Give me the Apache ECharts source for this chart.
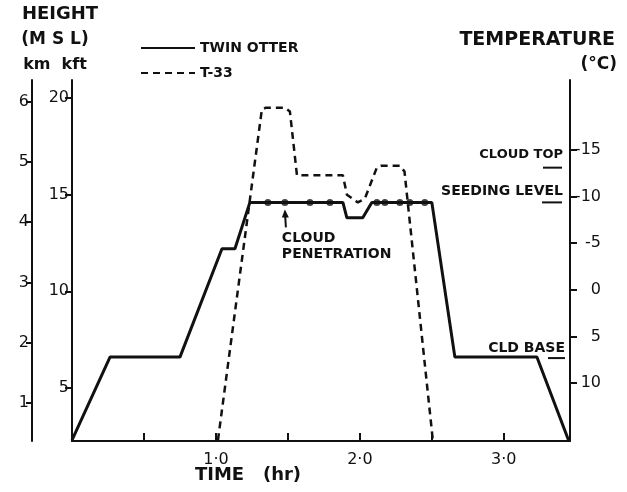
<!DOCTYPE html>
<html>
<head>
<meta charset="utf-8">
<script src="https://cdn.jsdelivr.net/npm/echarts@6.0.0/dist/echarts.min.js"></script>
<style>
  html, body { margin: 0; padding: 0; background: #fff; }
  #chart { width: 627px; height: 492px; }
</style>
</head>
<body>
<div id="chart"></div>
<script>
// flight profiles: time (hr) vs height (kft MSL)
const twinOtterTime = [0, 0.264, 0.75, 1.042, 1.132, 1.236, 1.882, 1.91, 2.02, 2.083, 2.5, 2.66, 3.23, 3.45];
const twinOtterKft = [2.3, 6.6, 6.6, 12.2, 12.2, 14.6, 14.6, 13.8, 13.8, 14.6, 14.6, 6.6, 6.6, 2.3];

const t33Time = [1.014, 1.319, 1.347, 1.479, 1.514, 1.563, 1.882, 1.91, 1.986, 2.035, 2.118, 2.15, 2.278, 2.31, 2.507];
const t33Kft = [2.3, 19.4, 19.5, 19.5, 19.3, 16.0, 16.0, 15.0, 14.6, 14.8, 16.4, 16.5, 16.5, 16.2, 2.3];

// cloud penetrations along the seeding level
const penetrationTime = [1.361, 1.479, 1.653, 1.792, 2.118, 2.174, 2.278, 2.347, 2.451];
const penetrationKft = [14.6, 14.6, 14.6, 14.6, 14.6, 14.6, 14.6, 14.6, 14.6];

const starTime = [2.02];
const starKft = [15.2];

// axes
const timeTicks = [0.5, 1, 1.5, 2, 2.5, 3];
const timeLabels = [1, 2, 3];
const kftTicks = [5, 10, 15, 20];
const kmTicks = [1, 2, 3, 4, 5, 6];
const tempTicks = [-15, -10, -5, 0, 5, 10];

const FONT = 'DejaVu Sans';
const black = '#111';

const chart = echarts.init(document.getElementById('chart'));

function pairs(xs, ys) {
  return xs.map((x, i) => [x, ys[i]]);
}

function sideAxis(extra) {
  return Object.assign({
    type: 'value',
    splitLine: { show: false },
    axisLine: { show: true, onZero: false, lineStyle: { color: black, width: 2 } },
    axisTick: { show: true, length: 6, lineStyle: { color: black, width: 2 } },
    axisLabel: { color: black, fontFamily: FONT, fontSize: 16, margin: 3 }
  }, extra);
}

const option = {
  backgroundColor: '#fff',
  animation: false,
  grid: { left: 72, right: 57, top: 80, bottom: 51 },
  legend: {
    data: ['TWIN OTTER', 'T-33'],
    orient: 'vertical',
    left: 135,
    top: 36,
    itemWidth: 54,
    itemHeight: 14,
    itemGap: 11,
    itemStyle: { opacity: 0 },
    textStyle: { color: black, fontFamily: FONT, fontWeight: 'bold', fontSize: 14, padding: [0, 0, 0, 0] }
  },
  xAxis: {
    type: 'value',
    min: 0,
    max: 3.46,
    splitLine: { show: false },
    axisLine: { show: true, onZero: false, lineStyle: { color: black, width: 2 } },
    axisTick: { show: true, inside: true, length: 8, customValues: timeTicks, lineStyle: { color: black, width: 2 } },
    axisLabel: {
      customValues: timeLabels,
      color: black, fontFamily: FONT, fontSize: 16, margin: 11,
      formatter: v => v.toFixed(1).replace('.', '·')
    }
  },
  yAxis: [
    sideAxis({
      position: 'left', min: 2.26, max: 20.93,
      axisTick: { show: true, length: 7, customValues: kftTicks, lineStyle: { color: black, width: 2 } },
      axisLabel: { customValues: kftTicks, color: black, fontFamily: FONT, fontSize: 16, margin: 3 }
    }),
    sideAxis({
      position: 'left', offset: 40, min: 0.37, max: 6.36,
      axisTick: { show: true, length: 6, customValues: kmTicks, lineStyle: { color: black, width: 2 } },
      axisLabel: { customValues: kmTicks, color: black, fontFamily: FONT, fontSize: 16, margin: 3 }
    }),
    sideAxis({
      position: 'right', inverse: true, min: -22.5, max: 16.2,
      axisTick: { show: true, length: 7, customValues: tempTicks, lineStyle: { color: black, width: 2 } },
      axisLabel: { customValues: tempTicks, color: black, fontFamily: FONT, fontSize: 16, margin: 31, align: 'right' }
    })
  ],
  series: [
    {
      name: 'TWIN OTTER',
      type: 'line',
      symbol: 'none',
      lineStyle: { color: black, width: 3 },
      itemStyle: { color: black },
      data: pairs(twinOtterTime, twinOtterKft),
      z: 3
    },
    {
      name: 'T-33',
      type: 'line',
      symbol: 'none',
      lineStyle: { color: black, width: 2.5, type: [7, 5] },
      itemStyle: { color: black },
      data: pairs(t33Time, t33Kft),
      z: 2
    },
    {
      name: 'penetration',
      type: 'scatter',
      symbol: 'circle',
      symbolSize: 7,
      itemStyle: { color: black },
      data: pairs(penetrationTime, penetrationKft),
      z: 4
    },
    {
      name: 'star',
      type: 'scatter',
      symbol: 'none',
      label: { show: true, formatter: '✱', color: black, fontSize: 11, fontWeight: 'bold', position: 'inside' },
      data: pairs(starTime, starKft)
    }
  ]
};

chart.setOption(option);

// annotation text, anchored at (time, kft)
const boldText = (text, pos, size, align, extra) => Object.assign({
  type: 'text',
  x: pos[0], y: pos[1],
  style: { text: text, fill: black, font: 'bold ' + size + 'px "' + FONT + '"', textAlign: align || 'left', textVerticalAlign: 'top' }
}, extra || {});

const px = (t, h) => chart.convertToPixel({ xAxisIndex: 0, yAxisIndex: 0 }, [t, h]);
const seedY = px(0, 14.6)[1];
const baseY = px(0, 6.6)[1];
const topY = px(0, 16.5)[1];
const rightX = px(3.46, 0)[0];
const dot = px(1.479, 14.6);

const underline = (x1, x2, y) => ({
  type: 'line', shape: { x1: x1, y1: y, x2: x2, y2: y }, style: { stroke: black, lineWidth: 2 }
});

chart.setOption({
  graphic: [
    boldText('HEIGHT', [60, 5], 18, 'center'),
    boldText('(M S L)', [55, 31], 17, 'center'),
    boldText('km  kft', [55, 57], 16, 'center'),
    boldText('TEMPERATURE', [615, 31], 19, 'right'),
    boldText('(°C)', [617, 56], 17, 'right'),
    boldText('TIME   (hr)', [248, 466], 18, 'center'),
    boldText('CLOUD TOP', [rightX - 7, topY - 18], 13, 'right'),
    underline(rightX - 27, rightX - 8, topY + 2),
    boldText('SEEDING LEVEL', [rightX - 7, seedY - 18], 14, 'right'),
    underline(rightX - 28, rightX - 8, seedY),
    boldText('CLD BASE', [rightX - 5, baseY - 16], 14, 'right'),
    underline(rightX - 22, rightX - 5, baseY + 1),
    boldText('CLOUD', [dot[0] - 3, dot[1] + 29], 14, 'left'),
    boldText('PENETRATION', [dot[0] - 3, dot[1] + 45], 14, 'left'),
    {
      type: 'line', shape: { x1: dot[0] + 1, y1: dot[1] + 25, x2: dot[0], y2: dot[1] + 9 },
      style: { stroke: black, lineWidth: 2 }
    },
    {
      type: 'polygon',
      shape: { points: [[dot[0] - 3, dot[1] + 15], [dot[0] + 4, dot[1] + 15], [dot[0], dot[1] + 7]] },
      style: { fill: black }
    }
  ]
});

window.addEventListener('resize', () => chart.resize());
</script>
</body>
</html>
